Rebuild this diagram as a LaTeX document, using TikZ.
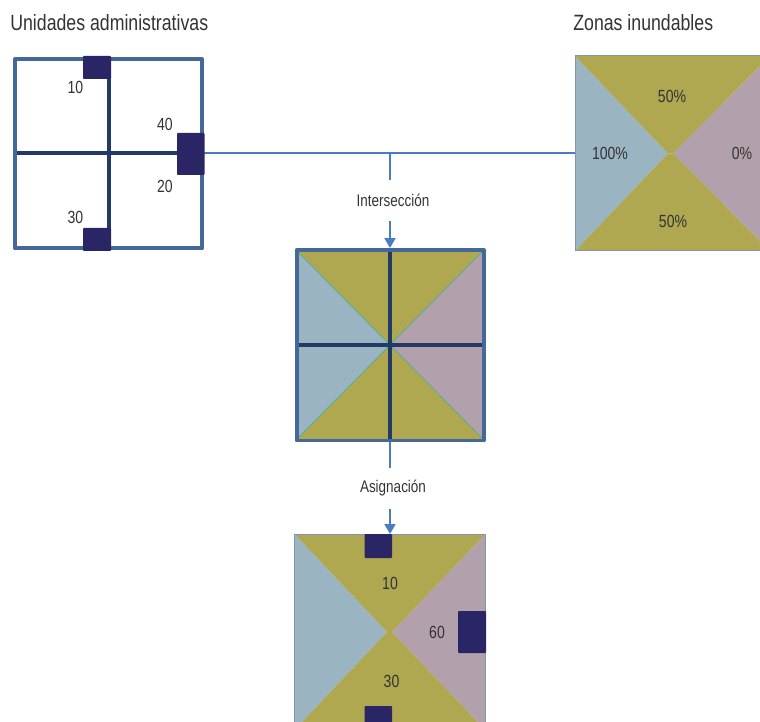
\documentclass[tikz,border=0pt]{standalone}
\usepackage{fontspec}
\setmainfont[FakeStretch=0.8]{Liberation Sans}
\usetikzlibrary{arrows.meta}

\definecolor{olivezone}{HTML}{AFA851}
\definecolor{bluezone}{HTML}{9AB4C1}
\definecolor{mauvezone}{HTML}{B2A1AC}
\definecolor{navyblock}{HTML}{2A2564}
\definecolor{gridline}{HTML}{243A66}
\definecolor{framecol}{HTML}{44689A}
\definecolor{linkcol}{HTML}{4A7CC0}
\definecolor{textcol}{HTML}{333333}

\tikzset{
  frame/.style={draw=framecol,line width=0.08cm,line join=round},
  grid/.style={draw=gridline,line width=0.08cm},
  block/.style={fill=navyblock,rounded corners=0.5pt},
  link/.style={draw=linkcol,line width=0.04cm},
  linkarrow/.style={link,-{Triangle[length=5.6pt,width=6.2pt]}},
  zoneedge/.style={draw=framecol!70,line width=0.02cm},
  heading/.style={anchor=base west,inner sep=0pt,text=textcol,font=\fontsize{12.6}{14}\selectfont},
  value/.style={inner sep=0pt,text=textcol,font=\fontsize{10}{12}\selectfont},
  oplabel/.style={inner sep=0pt,minimum height=0.82cm,text=textcol,font=\fontsize{9.6}{12}\selectfont}
}

\begin{document}
\begin{tikzpicture}[x=0.02cm,y=-0.02cm]
      \useasboundingbox (0,0) rectangle (760,722);
      \clip (0,0) rectangle (760,722);

      % Headings
      \node[heading] (adminhead) at (10,31) {Unidades administrativas};
      \node[heading] (floodhead) at (573,31) {Zonas inundables};

      % Reference points for the links
      \coordinate (adminright) at (204,153.5);
      \coordinate (floodleft) at (575,153.5);
      \coordinate (junction) at (390,153.5);
      \coordinate (crosstop) at (390,248);
      \coordinate (crossbottom) at (390,441);
      \coordinate (resulttop) at (390,534);

      % Operation labels
      \node[oplabel] (crosslabel) at (393,200.5) {Intersección};
      \node[oplabel] (assignlabel) at (393,488.5) {Asignación};

      % Links
      \draw[link] (adminright) -- (floodleft);
      \draw[link] (junction) -- (crosslabel.north -| junction);
      \draw[linkarrow] (crosslabel.south -| junction) -- (crosstop);
      \draw[link] (crossbottom) -- (assignlabel.north -| crossbottom);
      \draw[linkarrow] (assignlabel.south -| crossbottom) -- (resulttop);

      %% Administrative units
      \draw[grid] (15,153.5) -- (202,153.5);
      \draw[grid] (108.5,59) -- (108.5,248);
      \draw[frame] (15,59) rectangle (202,248.5);
      \foreach \Lx/\Ty/\Rx/\By in {83/56/111/79, 177/133/204.5/175, 83/228/111/251}{
        \fill[block] (\Lx,\Ty) rectangle (\Rx,\By);
      }
      \node[value] (adminten) at (75.5,87) {10};
      \node[value] (adminforty) at (165,124.5) {40};
      \node[value] (admintwenty) at (165,186) {20};
      \node[value] (adminthirty) at (75.5,217) {30};

      %% Flood zones
      \fill[bluezone] (575,56) -- (668,153.5) -- (575,251) -- cycle;
      \fill[mauvezone] (770,56) -- (673,153.5) -- (770,251) -- cycle;
      \fill[olivezone] (575,56) -- (770,56) -- (673,153.5) -- (668,153.5) -- cycle;
      \fill[olivezone] (575,251) -- (770,251) -- (673,153.5) -- (668,153.5) -- cycle;
      \draw[zoneedge] (770,56) -- (575.5,56) -- (575.5,251) -- (770,251);
      \node[value] (floodtop) at (672,96) {50\%};
      \node[value] (floodleftval) at (610,153) {100\%};
      \node[value] (floodright) at (742,153) {0\%};
      \node[value] (floodbottom) at (673,221) {50\%};

      %% Intersection
      \fill[bluezone] (296,250) -- (390,345) -- (296,440) -- cycle;
      \fill[mauvezone] (484,250) -- (390,345) -- (484,440) -- cycle;
      \fill[olivezone] (296,250) -- (484,250) -- (390,345) -- cycle;
      \fill[olivezone] (296,440) -- (484,440) -- (390,345) -- cycle;
      \draw[draw=teal!60!cyan,line width=0.2pt] (296,250) -- (484,440) (484,250) -- (296,440);
      \draw[grid] (297,345) -- (483,345);
      \draw[grid] (390,250) -- (390,440);
      \draw[frame] (296.5,250) rectangle (483.5,440.5);

      %% Assignment
      \fill[bluezone] (294.5,534) -- (387,632) -- (294.5,730) -- cycle;
      \fill[mauvezone] (485.5,534) -- (392,632) -- (485.5,730) -- cycle;
      \fill[olivezone] (294.5,534) -- (485.5,534) -- (392,632) -- (387,632) -- cycle;
      \fill[olivezone] (294.5,730) -- (485.5,730) -- (392,632) -- (387,632) -- cycle;
      \draw[zoneedge] (294.5,730) -- (294.5,534.5) -- (485.5,534.5) -- (485.5,730);
      \foreach \Lx/\Ty/\Rx/\By in {364.5/534/392/558, 458/611/486/653, 364.5/706/392/735}{
        \fill[block] (\Lx,\Ty) rectangle (\Rx,\By);
      }
      \node[value] (resultten) at (390,583) {10};
      \node[value] (resultsixty) at (437,632) {60};
      \node[value] (resultthirty) at (391.5,681) {30};
    \end{tikzpicture}
\end{document}
